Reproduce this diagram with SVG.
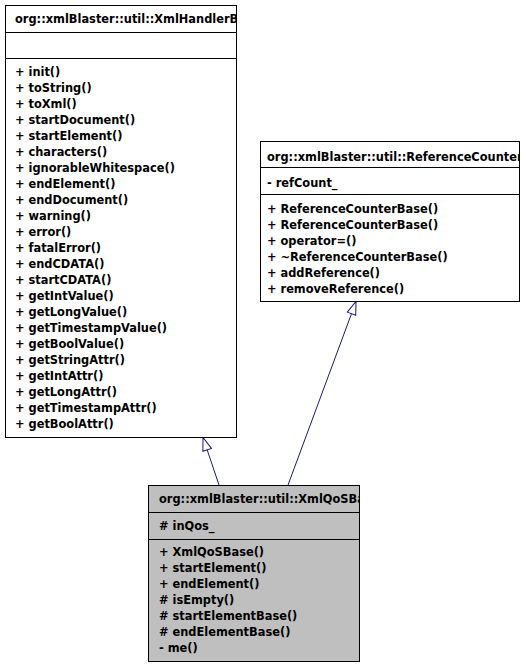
<svg xmlns="http://www.w3.org/2000/svg" width="522" height="666" viewBox="0 0 522 666">
<style>
text{font-family:"DejaVu Sans","Noto Sans",sans-serif;font-size:11.4px;font-weight:bold;fill:#000}
.box{stroke:#000;stroke-width:1}
.sep{stroke:#000;stroke-width:1}
.conn{stroke:#191970;stroke-width:1;fill:none;marker-end:url(#tri)}
</style>
<defs>
<marker id="tri" markerUnits="userSpaceOnUse" markerWidth="15" markerHeight="11" refX="14" refY="5.5" orient="auto" viewBox="0 0 15 11">
<path d="M1,1 L14,5.5 L1,10 Z" fill="#fff" stroke="#191970" stroke-width="1"/>
</marker>
<clipPath id="c1"><rect x="5" y="5" width="231" height="432"/></clipPath>
<clipPath id="c2"><rect x="260" y="141" width="259" height="160"/></clipPath>
<clipPath id="c3"><rect x="148" y="485" width="211" height="176"/></clipPath>
</defs>
<rect width="522" height="666" fill="#fff"/>
<g id="connectors">
<line class="conn" x1="219" y1="485" x2="203" y2="437.5"/>
<line class="conn" x1="288" y1="485" x2="356" y2="301.5"/>
</g>
<g id="XmlHandlerBase">
<rect class="box" x="5.5" y="5.5" width="231" height="432" fill="#fff"/>
<line class="sep" x1="5" y1="32.5" x2="236" y2="32.5"/>
<line class="sep" x1="5" y1="58.5" x2="236" y2="58.5"/>
<g clip-path="url(#c1)">
<text x="15" y="23">org::xmlBlaster::util::XmlHandlerBase</text>
<text x="15" y="76">+ init()</text>
<text x="15" y="92">+ toString()</text>
<text x="15" y="108">+ toXml()</text>
<text x="15" y="124">+ startDocument()</text>
<text x="15" y="140">+ startElement()</text>
<text x="15" y="156">+ characters()</text>
<text x="15" y="172">+ ignorableWhitespace()</text>
<text x="15" y="188">+ endElement()</text>
<text x="15" y="204">+ endDocument()</text>
<text x="15" y="220">+ warning()</text>
<text x="15" y="236">+ error()</text>
<text x="15" y="252">+ fatalError()</text>
<text x="15" y="268">+ endCDATA()</text>
<text x="15" y="284">+ startCDATA()</text>
<text x="15" y="300">+ getIntValue()</text>
<text x="15" y="316">+ getLongValue()</text>
<text x="15" y="332">+ getTimestampValue()</text>
<text x="15" y="348">+ getBoolValue()</text>
<text x="15" y="364">+ getStringAttr()</text>
<text x="15" y="380">+ getIntAttr()</text>
<text x="15" y="396">+ getLongAttr()</text>
<text x="15" y="412">+ getTimestampAttr()</text>
<text x="15" y="428">+ getBoolAttr()</text>
</g>
</g>
<g id="ReferenceCounterBase">
<rect class="box" x="260.5" y="141.5" width="259" height="160" fill="#fff"/>
<line class="sep" x1="260" y1="167.5" x2="519" y2="167.5"/>
<line class="sep" x1="260" y1="194.5" x2="519" y2="194.5"/>
<g clip-path="url(#c2)">
<text x="267" y="161">org::xmlBlaster::util::ReferenceCounterBase</text>
<text x="267" y="187">- refCount_</text>
<text x="267" y="213">+ ReferenceCounterBase()</text>
<text x="267" y="229">+ ReferenceCounterBase()</text>
<text x="267" y="245">+ operator=()</text>
<text x="267" y="261">+ ~ReferenceCounterBase()</text>
<text x="267" y="277">+ addReference()</text>
<text x="267" y="293">+ removeReference()</text>
</g>
</g>
<g id="XmlQoSBase">
<rect class="box" x="148.5" y="485.5" width="211" height="176" fill="#bfbfbf"/>
<line class="sep" x1="148" y1="512.5" x2="359" y2="512.5"/>
<line class="sep" x1="148" y1="539.5" x2="359" y2="539.5"/>
<g clip-path="url(#c3)">
<text x="159" y="503">org::xmlBlaster::util::XmlQoSBase</text>
<text x="159" y="530"># inQos_</text>
<text x="159" y="556">+ XmlQoSBase()</text>
<text x="159" y="572">+ startElement()</text>
<text x="159" y="588">+ endElement()</text>
<text x="159" y="604"># isEmpty()</text>
<text x="159" y="620"># startElementBase()</text>
<text x="159" y="636"># endElementBase()</text>
<text x="159" y="652">- me()</text>
</g>
</g>
</svg>
